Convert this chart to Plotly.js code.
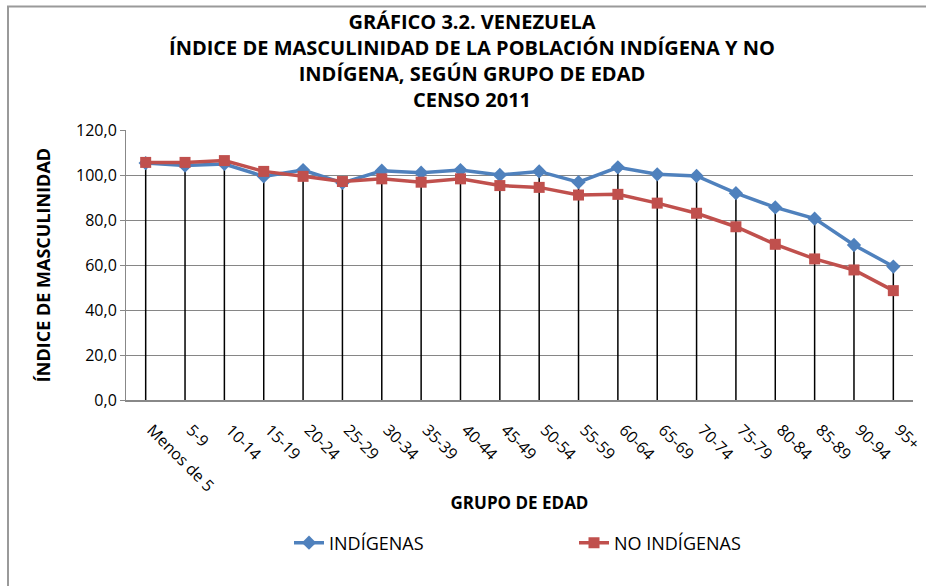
<!DOCTYPE html>
<html>
<head>
<meta charset="utf-8">
<script src="https://cdn.plot.ly/plotly-3.0.1.min.js"></script>
<style>
  html, body { margin: 0; padding: 0; background: #fff; }
  #chart { width: 926px; height: 586px; }
</style>
</head>
<body>
<div id="chart"></div>
<script>
const categories = ["Menos de 5", "5-9", "10-14", "15-19", "20-24", "25-29", "30-34", "35-39", "40-44", "45-49",
  "50-54", "55-59", "60-64", "65-69", "70-74", "75-79", "80-84", "85-89", "90-94", "95+"];
const indigenas = [105.3, 104.2, 104.9, 99.4, 102.2, 96.5, 101.9, 101.0, 102.2, 100.0,
  101.6, 96.8, 103.4, 100.3, 99.6, 91.9, 85.6, 80.6, 68.9, 59.3];
const noIndigenas = [105.6, 105.6, 106.4, 101.6, 99.4, 97.1, 98.3, 96.8, 98.3, 95.3,
  94.5, 91.1, 91.4, 87.5, 83.0, 77.0, 69.2, 62.7, 57.8, 48.6];
const seriesNames = ["INDÍGENAS", "NO INDÍGENAS"];
const yTickVals = [0, 20, 40, 60, 80, 100, 120];
const yTickText = ["0,0", "20,0", "40,0", "60,0", "80,0", "100,0", "120,0"];

// Drop lines from the higher point of each category down to the axis
const dropX = [], dropY = [];
categories.forEach((c, i) => {
  dropX.push(c, c, null);
  dropY.push(0, Math.max(indigenas[i], noIndigenas[i]), null);
});

const FONT = "'Open Sans', Lato, sans-serif";

const traces = [
  {
    x: dropX, y: dropY, type: "scatter", mode: "lines",
    line: { color: "#000000", width: 1.5 },
    showlegend: false, hoverinfo: "skip", connectgaps: false
  },
  {
    x: categories, y: indigenas, type: "scatter", mode: "lines+markers",
    name: seriesNames[0], legend: "legend",
    line: { color: "#4F81BD", width: 3.5 },
    marker: { symbol: "diamond", size: 11, color: "#4F81BD" }
  },
  {
    x: categories, y: noIndigenas, type: "scatter", mode: "lines+markers",
    name: seriesNames[1], legend: "legend2",
    line: { color: "#C0504D", width: 3.5 },
    marker: { symbol: "square", size: 11, color: "#C0504D" }
  }
];

const L = 126, R = 13, T = 130, B = 186;
const W = 926 - L - R, H = 586 - T - B;
const px = v => (v - L) / W;
const py = v => (586 - B - v) / H;

const legendFont = { family: FONT, size: 18, color: "#000000" };

const layout = {
  width: 926, height: 586,
  margin: { l: L, r: R, t: T, b: B },
  paper_bgcolor: "#ffffff", plot_bgcolor: "#ffffff",
  font: { family: FONT, color: "#000000" },
  title: {
    text: "GRÁFICO 3.2. VENEZUELA<br>ÍNDICE DE MASCULINIDAD DE LA POBLACIÓN INDÍGENA Y NO<br>INDÍGENA, SEGÚN GRUPO DE EDAD<br>CENSO 2011",
    font: { family: FONT, size: 20, color: "#000000", weight: "bold" },
    x: 472 / 926, xref: "container", xanchor: "center",
    y: 0.95, yref: "container", yanchor: "top"
  },
  xaxis: {
    type: "category",
    tickangle: 45,
    tickfont: { family: FONT, size: 16, color: "#000000" },
    ticklabelstandoff: 13, ticklabelshift: 6,
    showgrid: false,
    showline: true, linecolor: "#888888", linewidth: 1.5,
    ticks: "", zeroline: false,
    range: [-0.5, categories.length - 0.5],
    title: { text: "GRUPO DE EDAD", font: { family: FONT, size: 17, weight: "bold", color: "#000000" }, standoff: 2 }
  },
  yaxis: {
    range: [0, 120],
    tickvals: yTickVals, ticktext: yTickText,
    tickfont: { family: FONT, size: 16, color: "#000000" },
    showgrid: true, gridcolor: "#868686", gridwidth: 1,
    showline: true, linecolor: "#888888", linewidth: 1,
    ticks: "outside", ticklen: 5, tickcolor: "#888888",
    zeroline: false,
    title: { text: "ÍNDICE DE MASCULINIDAD", font: { family: FONT, size: 18, weight: "bold", color: "#000000" }, standoff: 20 }
  },
  legend: {
    orientation: "h",
    x: px(289), xanchor: "left",
    y: py(543), yanchor: "middle",
    font: legendFont, bgcolor: "rgba(0,0,0,0)"
  },
  legend2: {
    orientation: "h",
    x: px(574), xanchor: "left",
    y: py(543), yanchor: "middle",
    font: legendFont, bgcolor: "rgba(0,0,0,0)"
  },
  shapes: [
    {
      type: "rect", xref: "paper", yref: "paper",
      x0: px(8), x1: px(960), y0: py(640), y1: py(6.5),
      line: { color: "#9a9a9a", width: 2 }, fillcolor: "rgba(0,0,0,0)",
      layer: "below"
    }
  ],
  showlegend: true
};

Plotly.newPlot("chart", traces, layout, { displayModeBar: false, staticPlot: true });
</script>
</body>
</html>
